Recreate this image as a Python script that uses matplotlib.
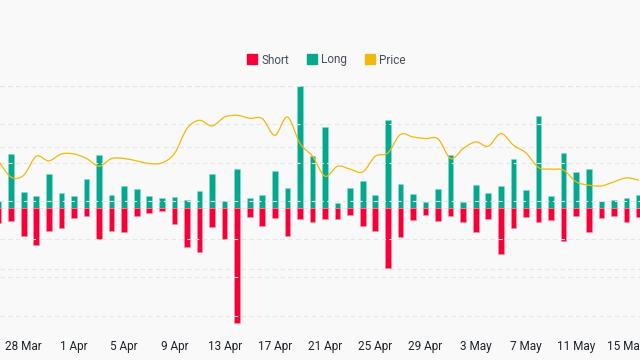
import numpy as np
import matplotlib
matplotlib.use("Agg")
import matplotlib.pyplot as plt
from matplotlib.path import Path
from matplotlib.patches import PathPatch
from matplotlib.lines import Line2D

plt.rcParams['font.family'] = ['Roboto', 'DejaVu Sans']

# ---- data (one value per day, 26 Mar .. 16 May) ----
days = list(range(52))
tick_labels = ["28 Mar", "1 Apr", "5 Apr", "9 Apr", "13 Apr", "17 Apr", "21 Apr",
               "25 Apr", "29 Apr", "3 May", "7 May", "11 May", "15 May"]
long_vals = [11.5, 89.1, 25.7, 19.1, 56.3, 24.0, 19.1, 47.0, 86.3, 20.8, 36.6, 30.6, 19.1,
             15.8, 18.0, 12.6, 28.4, 56.3, 12.0, 64.5, 16.9, 21.3, 61.2, 32.8, 200.0, 85.8,
             132.2, 8.7, 33.3, 43.7, 21.3, 144.8, 39.9, 22.9, 10.4, 30.6, 87.4, 10.4, 37.7,
             25.1, 35.5, 80.9, 30.1, 150.8, 19.1, 89.6, 58.5, 63.4, 12.0, 13.1, 15.8, 21.9]
short_vals = [25.1, 20.8, 45.9, 61.2, 37.7, 32.8, 16.4, 13.1, 50.3, 38.2, 38.8, 12.6, 8.7,
              5.2, 26.2, 63.9, 71.6, 31.7, 50.8, 188.0, 14.2, 30.1, 16.9, 45.9, 18.6, 22.9,
              17.5, 18.6, 10.9, 29.0, 37.7, 98.4, 47.5, 20.2, 10.9, 21.3, 12.6, 23.5, 38.8,
              18.0, 74.9, 32.2, 15.3, 23.5, 19.7, 54.1, 13.7, 39.3, 15.8, 13.7, 23.5, 14.2]
price_vals = [2.517, 2.308, 2.334, 2.582, 2.521, 2.612, 2.612, 2.552, 2.452, 2.552, 2.552,
              2.521, 2.487, 2.495, 2.617, 2.944, 3.052, 2.978, 3.095, 3.117, 3.078, 3.074,
              2.856, 3.095, 2.748, 2.582, 2.321, 2.452, 2.413, 2.377, 2.582, 2.625, 2.866,
              2.834, 2.813, 2.808, 2.552, 2.683, 2.769, 2.713, 2.879, 2.726, 2.625, 2.435,
              2.413, 2.399, 2.247, 2.204, 2.194, 2.247, 2.299, 2.269]

RED = "#F6003A"
GREEN = "#05A88D"
YELLOW = "#F0B90B"
BG = "#F9F9F9"

fig = plt.figure(figsize=(6.4, 3.6), dpi=100, facecolor=BG)
ax = fig.add_axes([0.0, 30 / 360, 1.0, 244 / 360])
ax.set_facecolor(BG)

x = np.array(days)
w = 0.45
ax.bar(x, long_vals, width=w, color=GREEN, edgecolor="#7fe0cf", linewidth=0.4, zorder=3)
ax.bar(x, [-v for v in short_vals], width=w, color=RED, edgecolor="#ff8fa6", linewidth=0.4, zorder=3)

ax.set_ylim(-200, 200)
ax.set_yticks([-200, -100, 0, 100, 200])
ax.set_xlim(0.108, 51.08)
ax.set_xticks(x[2::4])
ax.set_xticklabels(tick_labels)
ax.tick_params(axis='x', length=0, pad=7, labelsize=8.5, labelcolor="#1E2329")
ax.tick_params(axis='y', length=0, labelleft=False)
for s in ax.spines.values():
    s.set_visible(False)
ax.grid(axis='y', color="#E6E6E6", linestyle=(0, (4, 3)), linewidth=0.8, zorder=0)
ax.set_axisbelow(True)

ax2 = ax.twinx()
ax2.set_ylim(0.311, 3.5)
ax2.set_yticks([0.5, 1.0, 1.5, 2.0, 2.5, 3.0, 3.5])
ax2.tick_params(axis='y', length=0, labelright=False)
for s in ax2.spines.values():
    s.set_visible(False)
ax2.grid(axis='y', color="#E6E6E6", linestyle=(0, (4, 3)), linewidth=0.8, zorder=0)
ax2.set_zorder(ax.get_zorder() + 1)
ax2.patch.set_visible(False)

# smooth price curve (Catmull-Rom as cubic Bezier)
px = np.array(days, dtype=float)
py = np.array(price_vals, dtype=float)
verts = [(px[0], py[0])]
codes = [Path.MOVETO]
n = len(px)
for i in range(n - 1):
    p0 = np.array([px[max(i - 1, 0)], py[max(i - 1, 0)]])
    p1 = np.array([px[i], py[i]])
    p2 = np.array([px[i + 1], py[i + 1]])
    p3 = np.array([px[min(i + 2, n - 1)], py[min(i + 2, n - 1)]])
    c1 = p1 + (p2 - p0) / 6.0
    c2 = p2 - (p3 - p1) / 6.0
    verts += [tuple(c1), tuple(c2), tuple(p2)]
    codes += [Path.CURVE4, Path.CURVE4, Path.CURVE4]
ax2.add_patch(PathPatch(Path(verts, codes), facecolor="none", edgecolor=YELLOW,
                        linewidth=0.9, zorder=4))

handles = [Line2D([], [], marker='s', linestyle='none', markersize=6.5, color=c)
           for c in (RED, GREEN, YELLOW)]
leg = fig.legend(handles, ["Short", "Long", "Price"], loc='center',
                 bbox_to_anchor=(326 / 640, 1 - 60 / 360), ncol=3, frameon=False,
                 fontsize=8.5, handletextpad=0.3, columnspacing=1.4, handlelength=1.0,
                 labelcolor="#474D57")

fig.savefig("out.png", dpi=100, facecolor=BG)
